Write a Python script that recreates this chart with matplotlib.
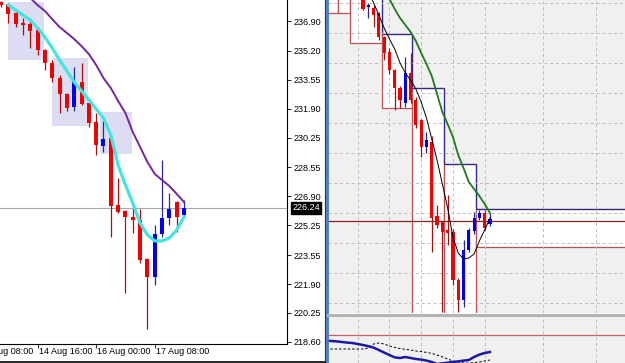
import numpy as np
import matplotlib.pyplot as plt
import matplotlib.transforms as mtransforms
from matplotlib.patches import Rectangle
from matplotlib.lines import Line2D

plt.rcParams['font.family'] = ['Liberation Sans', 'DejaVu Sans']

W, H = 625, 363

# ---- left chart: 4H candles, 13 Aug 20:00 onwards
l_open = [237.98, 237.87, 237.36, 236.76, 236.73, 236.39, 235.25, 234.51, 233.65, 232.74, 232.00, 233.42, 232.22,
          231.14, 229.77, 230.23, 226.41, 226.07, 225.73, 225.55, 223.33, 222.30, 224.76, 225.67, 226.58, 225.84]
l_high = [238.05, 237.95, 237.40, 237.07, 237.07, 236.45, 235.30, 234.68, 233.82, 232.80, 234.28, 234.51, 232.25,
          231.65, 231.26, 230.30, 227.95, 226.10, 226.44, 226.18, 223.40, 225.27, 228.98, 227.09, 226.65, 226.69]
l_low = [237.70, 236.79, 236.56, 236.10, 235.36, 234.96, 234.11, 233.42, 231.65, 231.77, 231.77, 232.11, 230.86,
         229.26, 229.43, 224.59, 225.95, 221.39, 224.81, 223.10, 219.34, 221.85, 224.59, 225.27, 224.87, 225.80]
l_close = [237.81, 237.30, 236.73, 236.70, 236.33, 235.25, 234.51, 233.65, 232.74, 231.94, 233.42, 232.17, 231.08,
           229.83, 230.17, 226.35, 226.01, 225.73, 225.55, 223.27, 222.30, 224.76, 225.67, 226.18, 225.73, 226.24]
l_fast = [np.nan, 237.81, 237.53, 237.24, 236.96, 236.50, 235.99, 235.36, 234.68, 234.05, 233.42, 232.91, 232.40,
          231.88, 231.37, 230.40, 228.69, 227.55, 226.52, 225.38, 224.70, 224.36, 224.36, 224.53, 224.98, 225.73]
l_slow = [np.nan, np.nan, np.nan, 238.55, 238.21, 237.81, 237.47, 237.01, 236.56, 236.22, 235.87, 235.47, 235.02,
          234.39, 233.65, 233.08, 232.34, 231.65, 230.57, 229.72, 228.86, 228.18, 227.83, 227.49, 227.04, 226.58]
# shaded zones: (start, end, low, high)
l_zones = [(0.95, 5.9, 234.68, 237.98), (7.0, 11.9, 230.91, 234.79), (13.5, 17.9, 229.32, 231.71)]
l_bid = 226.24
l_yticks = [236.90, 235.20, 233.55, 231.90, 230.25, 228.55, 226.90, 225.25, 223.55, 221.90, 220.25, 218.60]
l_xtick_pos = [-3, 5, 13, 21]
l_xtick_labels = ['13 Aug 08:00', '14 Aug 16:00', '16 Aug 00:00', '17 Aug 08:00']

# ---- right chart (other feed)
r_open = [238.25, 237.80, 237.75, 237.50, 236.30, 235.55, 234.65, 233.75, 233.00, 234.50, 233.15, 232.15, 230.80,
          231.05, 227.35, 227.05, 226.65, 226.55, 224.15, 223.15, 225.65, 226.60, 227.25, 227.50, 226.95]
r_high = [238.35, 238.00, 237.90, 237.55, 236.35, 235.75, 234.70, 233.85, 235.30, 235.50, 233.30, 232.20, 231.55,
          231.35, 227.90, 227.10, 228.40, 226.70, 224.25, 226.15, 226.75, 227.55, 227.65, 227.65, 227.50]
r_low = [237.65, 237.25, 236.80, 236.15, 235.15, 234.45, 232.65, 232.75, 232.80, 233.00, 231.75, 230.30, 230.50,
         225.55, 226.75, 222.55, 225.90, 223.90, 222.55, 222.80, 225.55, 226.45, 227.15, 226.65, 226.85]
r_close = [237.70, 237.90, 237.40, 236.30, 235.50, 234.65, 233.75, 233.15, 234.50, 233.15, 231.90, 230.80, 231.15,
           227.25, 226.90, 226.55, 226.50, 224.15, 223.15, 225.65, 226.65, 227.25, 227.50, 226.75, 227.20]
r_fast = [239.13, 238.65, 238.00, 237.40, 236.75, 236.20, 235.70, 235.00, 234.50, 234.15, 233.70, 233.05, 232.25,
          231.20, 230.15, 228.95, 227.75, 226.30, 225.50, 225.20, 225.25, 225.45, 226.10, 226.65, 227.25]
r_slow = [np.nan, np.nan, np.nan, np.nan, 238.65, 238.20, 237.70, 237.25, 236.90, 236.55, 236.10, 235.50, 234.95,
          234.35, 233.45, 232.55, 231.95, 231.30, 230.40, 229.75, 229.05, 228.70, 228.35, 227.95, 227.50]
# boxes: (start, end, low, high)
r_boxes = [(-8, -4.73, 237.50, 239.5), (-4.73, -2.46, 237.50, 239.5), (-2.46, 3.59, 236.00, 239.5),
           (3.59, 9.26, 232.75, 236.45), (9.26, 15.3, 221.0, 233.75), (15.3, 21.27, 221.0, 229.95),
           (21.27, 52, 225.80, 227.70)]
r_bid = 227.10
r_grid_x = [-1, 5, 11, 17, 23, 34, 44]
r_grid_y = [238.0, 236.5, 235.0, 233.5, 232.0, 230.5, 229.0, 227.5, 226.0, 224.5, 223.0]

# ---- oscillator sub-window
ind_x = list(range(-7, 25))
ind_main = [-2.8, -3.0, -3.2, -3.5, -3.8, -4.0, -4.5, -5.0, -5.6, -6.3, -7.5, -8.8, -10.0, -11.2, -11.5, -11.0,
            -11.5, -12.0, -12.3, -12.8, -13.5, -14.5, -16.0, -17.0, -17.0, -16.5, -14.5, -12.5, -11.0, -9.8, -9.0, -8.5]
ind_signal = [-7.0, -7.0, -7.0, -7.0, -7.0, -7.0, -7.0, -7.0, -6.5, -4.5, -4.0, -4.5, -5.5, -6.2, -6.8, -7.2,
              -7.5, -8.0, -8.3, -8.7, -9.2, -10.0, -11.0, -12.0, -13.0, -13.5, -14.0, -14.0, -13.8, -13.5, -13.0, -12.5]


def draw_candles(ax, o, h, l, c, width):
    o, h, l, c = map(np.asarray, (o, h, l, c))
    x = np.arange(len(o))
    up = c >= o
    ax.vlines(x, l, h, colors=np.where(up, '#2a2a8a', '#a81010'), lw=0.9, zorder=3)
    ax.bar(x, np.maximum(np.abs(c - o), 0.05), bottom=np.minimum(o, c), width=width,
           color=np.where(up, '#0000f0', '#f00000'), zorder=3.1)


fig = plt.figure(figsize=(W / 100, H / 100), dpi=100)


def px_axes(x0, y0, x1, y1):
    return fig.add_axes([x0 / W, 1 - y1 / H, (x1 - x0) / W, (y1 - y0) / H])


# left panel
axL = px_axes(0, 0, 287, 344)
step = 7.32
axL.set_xlim(-1 / step, 286 / step)
axL.set_ylim(218.48, 238.10)
for x0, x1, lo, hi in l_zones:
    axL.add_patch(Rectangle((x0, lo), x1 - x0, hi - lo, fc='#dcdcf2', ec='none', zorder=1))
axL.axhline(l_bid, color='#a8a8a8', lw=0.8, zorder=2)
draw_candles(axL, l_open, l_high, l_low, l_close, 0.55)
axL.plot(l_slow, color='#7424a4', lw=1.4, zorder=4)
axL.plot(l_fast, color='#44e4e0', lw=2.3, zorder=4)
for s in ['top', 'left']:
    axL.spines[s].set_visible(False)
axL.yaxis.tick_right()
axL.set_yticks(l_yticks)
axL.set_yticklabels([f'{v:.2f}' for v in l_yticks])
axL.tick_params(axis='y', length=3, width=0.6, pad=2, labelsize=6.5)
axL.set_xticks(l_xtick_pos[1:])
axL.set_xticklabels([])
axL.tick_params(axis='x', length=3, width=0.6)
tr = mtransforms.blended_transform_factory(axL.transData, axL.transAxes)
for p, lab in zip(l_xtick_pos, l_xtick_labels):
    axL.text(p + 0.15, -8 / 344, lab, transform=tr, ha='left', va='center', fontsize=6.5, clip_on=False)
axL.annotate(f'{l_bid:.2f}', xy=(1, l_bid), xycoords=('axes fraction', 'data'), xytext=(4, 0),
             textcoords='offset points', ha='left', va='center', fontsize=6.5, color='white',
             bbox=dict(boxstyle='square,pad=0.12', fc='black', ec='black'))

fig.add_artist(Line2D([324.5 / W] * 2, [0, 1], color='#303030', lw=0.8))
fig.add_artist(Line2D([0, 325 / W], [1 - 361.5 / H] * 2, color='black', lw=1.2))
fig.add_artist(Line2D([327 / W] * 2, [0, 1], color='#4a78c8', lw=2))

# right panel
rstep = 5.29
axR = px_axes(328, 0, 625, 313)
axR.set_xlim(-35 / rstep, 262 / rstep)
axR.set_ylim(222.5, 238.15)
axR.set_facecolor('#f0f0f0')
for x0, x1, lo, hi in r_boxes:
    axR.add_patch(Rectangle((x0, lo), x1 - x0, hi - lo, fc='white', ec='#c05050', lw=0.9, zorder=1))
prev = None
for x0, x1, lo, hi in r_boxes:
    if hi < 238.15:
        axR.hlines(hi, x0, x1, color='#2c2c8c', lw=0.9, zorder=1.2)
        if prev is not None:
            axR.vlines(x0, hi, prev, color='#2c2c8c', lw=0.9, zorder=1.2)
    prev = hi
for gx in r_grid_x:
    axR.axvline(gx, color='#bcbcbc', lw=0.7, dashes=(3, 3), zorder=1.5)
for gy in r_grid_y:
    axR.axhline(gy, color='#bcbcbc', lw=0.7, dashes=(3, 3), zorder=1.5)
axR.axhline(r_bid, color='#8a2020', lw=0.9, zorder=2)
draw_candles(axR, r_open, r_high, r_low, r_close, 0.6)
axR.plot(r_slow, color='#1f7a1f', lw=1.3, zorder=4)
axR.plot(r_fast, color='black', lw=0.7, zorder=4)
axR.set_xticks([])
axR.set_yticks([])
for s in axR.spines.values():
    s.set_visible(False)

fig.add_artist(Line2D([328 / W, 1], [1 - 314.5 / H] * 2, color='#b4b4b4', lw=2.2))

# sub-window
axS = px_axes(328, 316, 625, 363)
axS.set_xlim(-35 / rstep, 262 / rstep)
axS.set_ylim(-14, 9.5)
axS.set_facecolor('#f0f0f0')
for gx in r_grid_x:
    axS.axvline(gx, color='#bcbcbc', lw=0.7, dashes=(3, 3), zorder=1)
axS.axhline(0, color='#d06060', lw=0.9, zorder=2)
axS.plot(ind_x, ind_signal, color='black', lw=0.7, dashes=(2.5, 2), zorder=3)
axS.plot(ind_x, ind_main, color='#1a1aa0', lw=1.8, zorder=4)
axS.set_xticks([])
axS.set_yticks([])
for s in axS.spines.values():
    s.set_visible(False)

fig.savefig('out.png', dpi=100)
